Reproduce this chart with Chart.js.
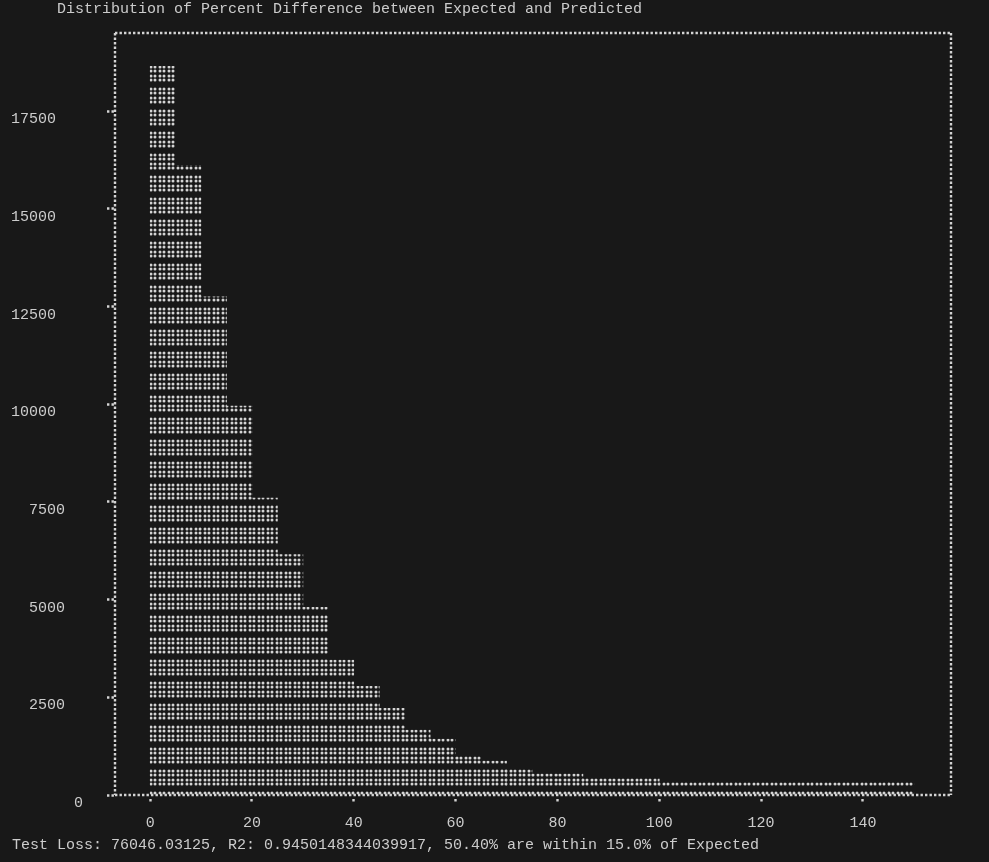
<!DOCTYPE html>
<html>
<head>
<meta charset="utf-8">
<script src="https://cdn.jsdelivr.net/npm/chart.js@4/dist/chart.umd.min.js"></script>
<style>
  html, body { margin: 0; padding: 0; background: #181818; }
  canvas { display: block; }
</style>
</head>
<body>
<canvas id="hist" width="989" height="862"></canvas>
<script>
const titleText = 'Distribution of Percent Difference between Expected and Predicted';
const footerText = 'Test Loss: 76046.03125, R2: 0.9450148344039917, 50.40% are within 15.0% of Expected';

// histogram bins (percent difference), 5 wide
const binCenters = [2.5, 7.5, 12.5, 17.5, 22.5, 27.5, 32.5, 37.5, 42.5, 47.5,
                    52.5, 57.5, 62.5, 67.5, 72.5, 77.5, 82.5, 87.5, 92.5, 97.5,
                    102.5, 107.5, 112.5, 117.5, 122.5, 127.5, 132.5, 137.5, 142.5, 147.5];
const counts = [18650, 16100, 12750, 9950, 7600, 6150, 4800, 3450, 2780, 2220,
                1660, 1430, 980, 870, 650, 540, 540, 420, 420, 420,
                320, 320, 320, 320, 320, 320, 320, 320, 320, 320];

const xTicks = [0, 20, 40, 60, 80, 100, 120, 140];
const yTicks = [0, 2500, 5000, 7500, 10000, 12500, 15000, 17500];

const fg = '#cccccc';
const dotColor = '#d4d4d4';
const mono = 'Liberation Mono';

const canvas = document.getElementById('hist');
const ctx = canvas.getContext('2d');

// braille-like dot fill: 2 columns x 4 rows per terminal cell (9 x 22 px)
function dotPattern() {
  const tile = document.createElement('canvas');
  tile.width = 9;
  tile.height = 22;
  const t = tile.getContext('2d');
  t.fillStyle = dotColor;
  [1, 5].forEach(x => {
    [1, 5, 10, 14].forEach(y => {
      t.fillRect(x, y, 2, 2);
      t.beginPath();
      t.arc(x + 1, y + 1, 1.5, 0, Math.PI * 2);
      t.fill();
    });
  });
  const p = ctx.createPattern(tile, 'repeat');
  p.setTransform(new DOMMatrix().translate(5, 21));
  return p;
}

// dotted frame round the plot, like the terminal braille box
const dottedFrame = {
  id: 'dottedFrame',
  beforeDatasetsDraw(chart) {
    const { left, right, top, bottom } = chart.chartArea;
    const c = chart.ctx;
    c.save();
    c.strokeStyle = dotColor;
    c.lineWidth = 2.4;
    c.setLineDash([2.4, 2.1]);
    c.beginPath();
    c.moveTo(left, top); c.lineTo(right, top);
    c.moveTo(right, top); c.lineTo(right, bottom);
    c.moveTo(left, bottom); c.lineTo(right, bottom);
    c.moveTo(left, top); c.lineTo(left, bottom);
    c.stroke();
    c.restore();
  }
};

const terminalText = {
  id: 'terminalText',
  afterDraw(chart) {
    const c = chart.ctx;
    c.save();
    c.font = '15px "' + mono + '"';
    c.fillStyle = fg;
    c.textBaseline = 'middle';
    c.textAlign = 'left';
    c.fillText(titleText, 57, 9);
    c.fillText(footerText, 12, 845);
    c.restore();
  }
};

new Chart(ctx, {
  type: 'bar',
  data: {
    datasets: [{
      label: 'count',
      data: binCenters.map((c, i) => ({ x: c, y: counts[i] })),
      backgroundColor: dotPattern(),
      borderWidth: 0,
      barPercentage: 1,
      categoryPercentage: 1
    }]
  },
  options: {
    responsive: false,
    animation: false,
    layout: { padding: { left: 10, right: 38, top: 21, bottom: 27 } },
    plugins: {
      legend: { display: false },
      tooltip: { enabled: false }
    },
    scales: {
      x: {
        type: 'linear',
        min: -6.9,
        max: 157.3,
        offset: false,
        afterBuildTicks: s => { s.ticks = xTicks.map(v => ({ value: v })); },
        afterFit: s => { s.height = 40; },
        grid: {
          offset: false,
          drawOnChartArea: false,
          tickLength: 7,
          tickColor: dotColor,
          tickWidth: 2.4,
          tickBorderDash: [0, 4, 2.4, 10]
        },
        border: { display: false },
        ticks: {
          color: fg,
          font: { family: mono, size: 15 },
          padding: 12,
          maxRotation: 0
        }
      },
      y: {
        min: 0,
        max: 19500,
        afterBuildTicks: s => { s.ticks = yTicks.map(v => ({ value: v })); },
        afterFit: s => { s.width = 105; },
        grid: {
          drawOnChartArea: false,
          tickLength: 8,
          tickColor: dotColor,
          tickWidth: 2.4,
          tickBorderDash: [2.4, 2.1]
        },
        border: { display: false },
        ticks: {
          color: fg,
          font: { family: mono, size: 15 },
          padding: 24,
          labelOffset: 8,
          callback: v => {
            const s = String(v);
            const pad = s.length >= 5 ? 3 : (s.length === 4 ? 2 : 0);
            return s + ' '.repeat(pad);
          }
        }
      }
    }
  },
  plugins: [dottedFrame, terminalText]
});
</script>
</body>
</html>
